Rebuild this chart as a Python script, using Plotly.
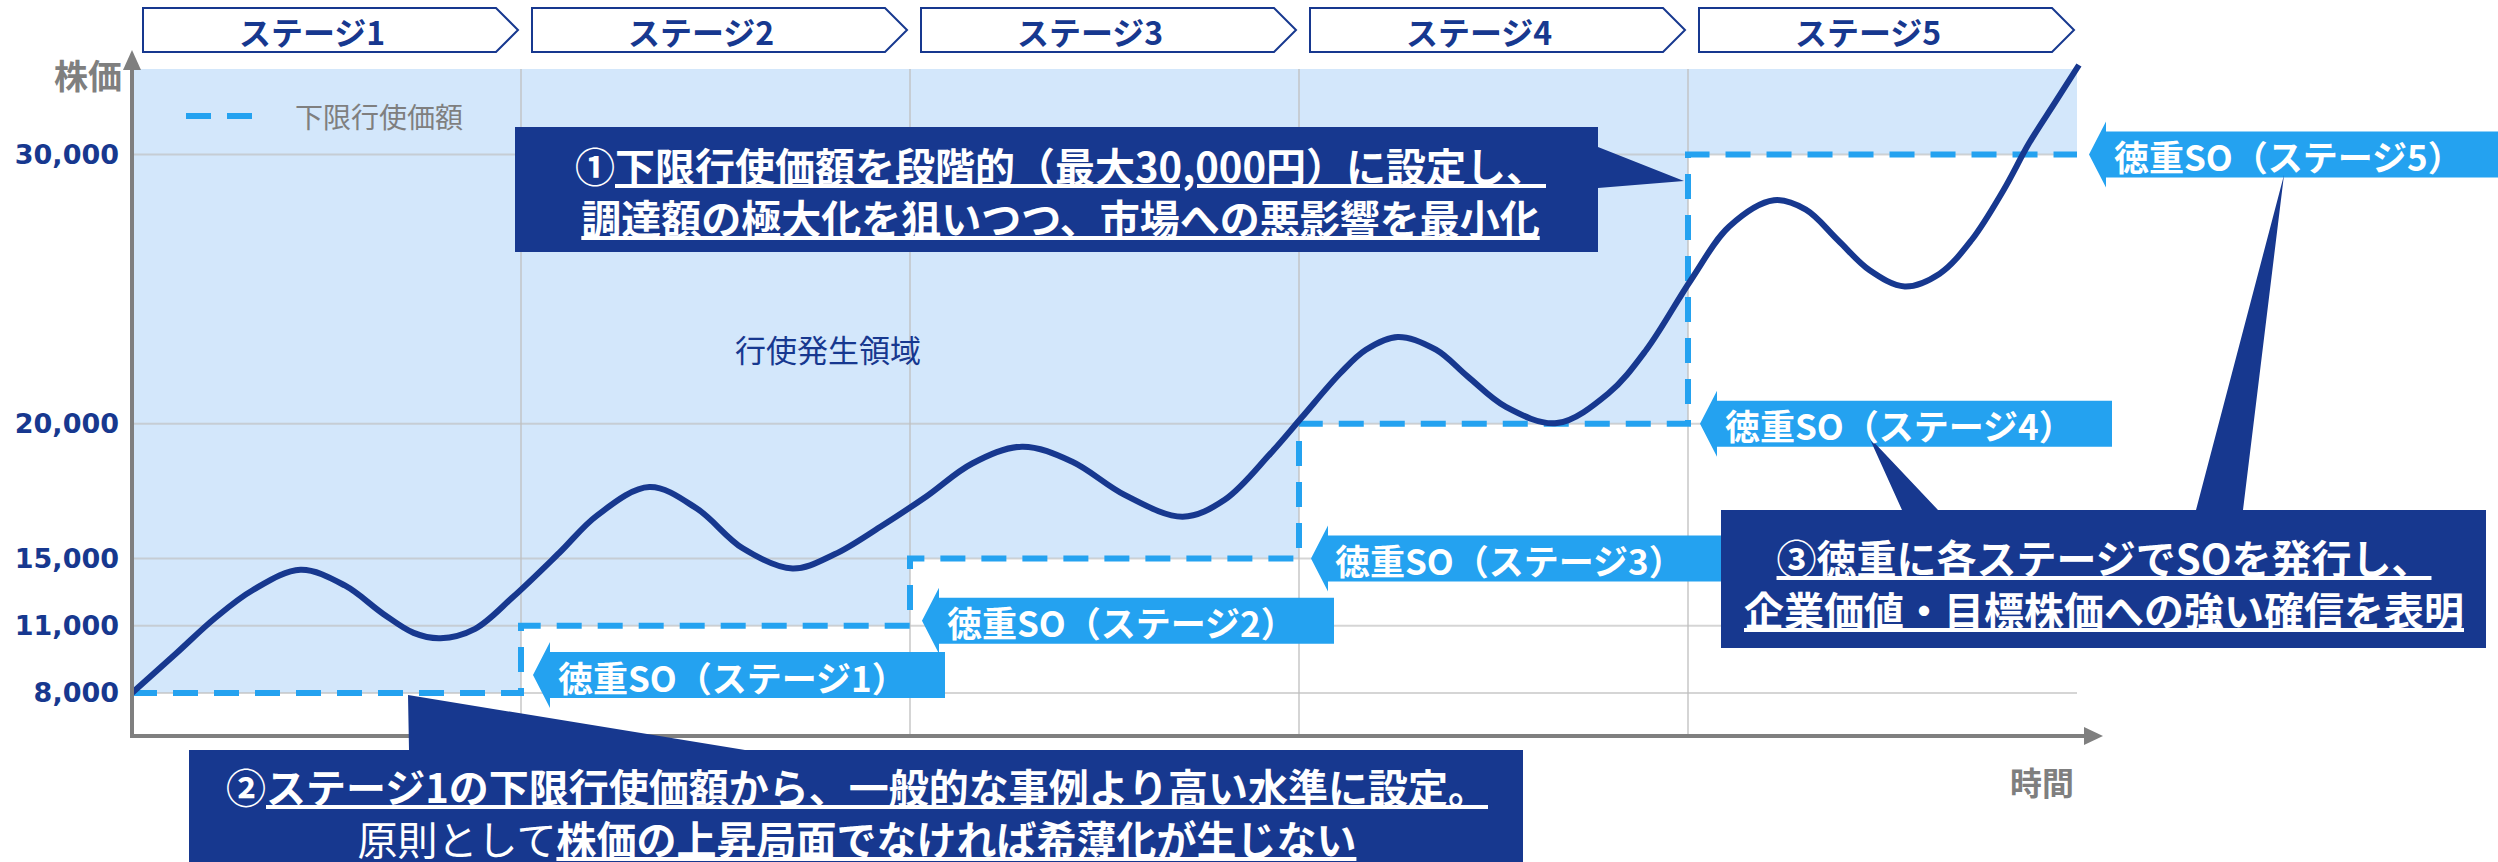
import numpy as np
import plotly.graph_objects as go

# ---------------- data ----------------
stage_names = ["ステージ1", "ステージ2", "ステージ3", "ステージ4", "ステージ5"]
stage_bounds = [0, 1, 2, 3, 4, 5]
floor_prices = [8000, 11000, 15000, 20000, 30000]          # 下限行使価額 per stage
tick_prices = [8000, 11000, 15000, 20000, 30000]
tick_labels = ["8,000", "11,000", "15,000", "20,000", "30,000"]

# schematic stock price path (time in stages, price in yen)
price_t = [0.000, 0.114, 0.213, 0.311, 0.433, 0.547, 0.646, 0.724, 0.793, 0.882, 0.980,
           1.098, 1.196, 1.330, 1.452, 1.570, 1.698, 1.806, 1.924, 2.042, 2.160, 2.288,
           2.416, 2.553, 2.701, 2.809, 2.927, 3.008, 3.106, 3.172, 3.254, 3.352, 3.434,
           3.532, 3.663, 3.795, 3.893, 4.008, 4.106, 4.221, 4.303, 4.385, 4.467, 4.557,
           4.647, 4.729, 4.811, 4.877, 4.942, 5.005]
price_v = [8000, 9770, 11440, 13120, 14320, 13390, 11700, 10680, 10440, 10860, 12720,
           15200, 16600, 17650, 16850, 15375, 14400, 15150, 16175, 17300, 18525, 19150,
           18600, 17350, 16550, 17175, 18900, 20250, 21875, 22750, 23225, 22750, 21750,
           20625, 20025, 21125, 22750, 25350, 27325, 28300, 27950, 26825, 25700, 25100,
           25575, 26825, 28675, 30425, 31900, 33325]

so_labels = ["徳重SO（ステージ1）", "徳重SO（ステージ2）", "徳重SO（ステージ3）",
             "徳重SO（ステージ4）", "徳重SO（ステージ5）"]

# ---------------- schematic (non-linear) price scale ----------------
scale_prices = [8000, 11000, 15000, 20000, 30000, 35000]
scale_levels = [0, 1, 2, 4, 8, 10]


def lvl(p):
    return np.interp(p, scale_prices, scale_levels)


# ---------------- layout geometry ----------------
W, H = 2498, 862
X0, SX = 132.0, 389.0      # pixel of t=0, pixels per stage
Y0, SY = 693.0, 67.31      # pixel of level 0, pixels per level
TOP_LVL = (Y0 - 69) / SY
AXIS_LVL = (Y0 - 736) / SY

NAVY = "#17388F"
BLUE = "#24A2F0"
FILL = "#D3E7FB"
GRAY = "#7F7F7F"
GRID = "rgba(190,190,190,0.65)"
JP = "Noto Sans CJK JP"


def P(x, y):
    return x / W, 1 - y / H


def path(pts):
    s = ""
    for i, (x, y) in enumerate(pts):
        px, py = P(x, y)
        s += ("M" if i == 0 else "L") + f"{px:.6f},{py:.6f} "
    return s + "Z"


def xpix(t):
    return X0 + SX * t


def ypix(price):
    return Y0 - SY * float(lvl(price))


def text_at(x, y, text, size, color, xanchor="center", align="center"):
    px, py = P(x, y)
    return dict(x=px, y=py, xref="paper", yref="paper", showarrow=False, text=text,
                xanchor=xanchor, yanchor="middle", align=align,
                font=dict(family=JP, size=size, color=color))


fig = go.Figure()

# fill region above the floor (行使発生領域)
step_x = list(np.repeat(stage_bounds, 2)[1:-1])
step_p = list(np.repeat(floor_prices, 2))
poly_x = step_x + [stage_bounds[-1], stage_bounds[0]]
poly_y = list(lvl(step_p)) + [TOP_LVL, TOP_LVL]
fig.add_trace(go.Scatter(x=poly_x, y=poly_y, fill="toself", fillcolor=FILL,
                         line=dict(width=0), mode="lines", hoverinfo="skip", showlegend=False))

# grid lines
for tp in tick_prices:
    fig.add_trace(go.Scatter(x=[stage_bounds[0], stage_bounds[-1]], y=[lvl(tp)] * 2, mode="lines",
                             line=dict(color=GRID, width=2), hoverinfo="skip", showlegend=False))
for b in stage_bounds[1:-1]:
    fig.add_trace(go.Scatter(x=[b, b], y=[AXIS_LVL, TOP_LVL], mode="lines",
                             line=dict(color=GRID, width=2), hoverinfo="skip", showlegend=False))

DASH = "25px,16px"
# floor (下限行使価額) step line
fig.add_trace(go.Scatter(x=stage_bounds, y=lvl(floor_prices + [floor_prices[-1]]), mode="lines",
                         line=dict(color=BLUE, width=6, dash=DASH, shape="hv"),
                         name="下限行使価額", hoverinfo="skip", showlegend=False))

# stock price curve
fig.add_trace(go.Scatter(x=price_t, y=lvl(price_v), mode="lines",
                         line=dict(color=NAVY, width=6, shape="spline", smoothing=1.0),
                         hoverinfo="skip", showlegend=False))

shapes = []
annots = []

# legend (drawn to match the long dashed sample)
shapes.append(dict(type="line", xref="paper", yref="paper", x0=P(186, 116)[0], y0=P(186, 116)[1],
                   x1=P(263, 116)[0], y1=P(263, 116)[1], line=dict(color=BLUE, width=6, dash=DASH)))
annots.append(text_at(293, 116, "下限行使価額", 28, GRAY, xanchor="left"))

# axes with arrows
shapes.append(dict(type="line", xref="paper", yref="paper", x0=P(X0, 736)[0], y0=P(X0, 736)[1],
                   x1=P(X0, 66)[0], y1=P(X0, 66)[1], line=dict(color=GRAY, width=4)))
shapes.append(dict(type="path", xref="paper", yref="paper",
                   path=path([(X0 - 9, 70), (X0, 50), (X0 + 9, 70)]), fillcolor=GRAY, line=dict(width=0)))
shapes.append(dict(type="line", xref="paper", yref="paper", x0=P(X0 - 2, 736)[0], y0=P(X0, 736)[1],
                   x1=P(2088, 736)[0], y1=P(2088, 736)[1], line=dict(color=GRAY, width=4)))
shapes.append(dict(type="path", xref="paper", yref="paper",
                   path=path([(2084, 727), (2103, 736), (2084, 745)]), fillcolor=GRAY, line=dict(width=0)))

annots.append(text_at(88, 75, "<b>株価</b>", 34, GRAY))
annots.append(text_at(2042, 781, "<b>時間</b>", 32, GRAY))
annots.append(text_at(828, 348, "行使発生領域", 31, NAVY))

# stage headers (chevrons)
for i, name in enumerate(stage_names):
    L = xpix(stage_bounds[i]) + 11
    T = xpix(stage_bounds[i + 1]) - 3
    R = T - 22
    shapes.append(dict(type="path", xref="paper", yref="paper",
                       path=path([(L, 8), (R, 8), (T, 30), (R, 52), (L, 52)]),
                       fillcolor="white", line=dict(color=NAVY, width=2)))
    annots.append(text_at((L + R) / 2 - 8, 31, f"<b>{name}</b>", 32, NAVY))

# SO labels (left-pointing arrows at each floor corner)
label_dy = [-18, -5, 0, 0, 0]
for i, txt in enumerate(so_labels):
    tx = xpix(stage_bounds[i + 1]) + 12
    ty = ypix(floor_prices[i]) + label_dy[i]
    bx = tx + 17
    R = bx + 395
    shapes.append(dict(type="path", xref="paper", yref="paper",
                       path=path([(tx, ty), (bx, ty - 33), (bx, ty - 23), (R, ty - 23), (R, ty + 23),
                                  (bx, ty + 23), (bx, ty + 33)]),
                       fillcolor=BLUE, line=dict(width=0)))
    annots.append(text_at(bx + 182, ty + 1, f"<b>{txt}</b>", 35, "white"))

U = '<span style="text-decoration:underline">'

# callout 1
shapes.append(dict(type="path", xref="paper", yref="paper",
                   path=path([(515, 127), (1598, 127), (1598, 147), (1684, 181), (1598, 188),
                              (1598, 252), (515, 252)]), fillcolor=NAVY, line=dict(width=0)))
annots.append(text_at(1060, 191,
                      f"<b>①{U}下限行使価額を段階的（最大30,000円）に設定し、</span><br>"
                      f"{U}調達額の極大化を狙いつつ、市場への悪影響を最小化</span></b>",
                      40, "white"))

# callout 3
shapes.append(dict(type="path", xref="paper", yref="paper",
                   path=path([(1721, 510), (1902, 510), (1869, 437), (1938, 510), (2196, 510),
                              (2284, 175), (2243, 510), (2486, 510), (2486, 648), (1721, 648)]),
                   fillcolor=NAVY, line=dict(width=0)))
annots.append(text_at(2104, 583,
                      f"<b>{U}③徳重に各ステージでSOを発行し、</span><br>"
                      f"{U}企業価値・目標株価への強い確信を表明</span></b>",
                      40, "white"))

# callout 2
shapes.append(dict(type="path", xref="paper", yref="paper",
                   path=path([(189, 750), (409, 750), (408, 695), (745, 750), (1523, 750),
                              (1523, 870), (189, 870)]), fillcolor=NAVY, line=dict(width=0)))
annots.append(text_at(857, 812,
                      f"<b>②{U}ステージ1の下限行使価額から、一般的な事例より高い水準に設定。</span></b><br>"
                      f"原則として<b>{U}株価の上昇局面でなければ希薄化が生じない</span></b>",
                      40, "white"))

fig.update_layout(
    width=W, height=H,
    margin=dict(l=0, r=0, t=0, b=0, pad=0, autoexpand=False),
    paper_bgcolor="white", plot_bgcolor="white",
    showlegend=False,
    xaxis=dict(range=[(0 - X0) / SX, (W - X0) / SX], visible=False, fixedrange=True,
               automargin=False),
    yaxis=dict(range=[(Y0 - H) / SY, Y0 / SY], anchor="free", position=X0 / W, side="left",
               tickvals=list(lvl(tick_prices)), ticktext=[f"<b>{t}</b>" for t in tick_labels],
               showgrid=False, zeroline=False, showline=False, ticks="", ticklabelstandoff=13,
               tickfont=dict(family="DejaVu Sans", size=27, color=NAVY),
               automargin=False, fixedrange=True),
    shapes=shapes,
    annotations=annots,
)

fig.write_html("out.html", config={"displayModeBar": False},
               post_script="document.body.style.margin='0';document.body.style.overflow='hidden';")
